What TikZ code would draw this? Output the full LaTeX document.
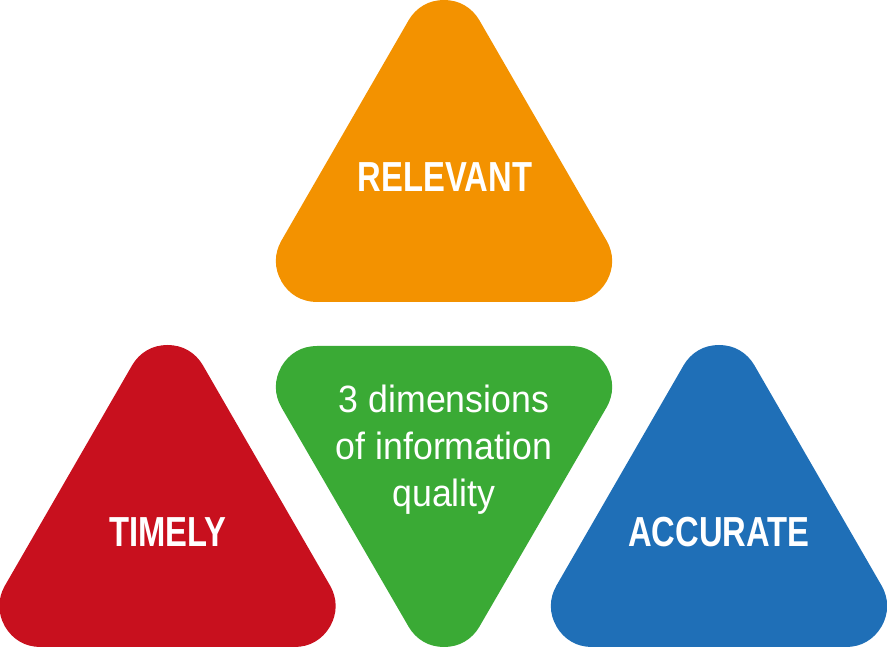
\documentclass[tikz,border=0pt]{standalone}
\usepackage{fontspec}
\setmainfont{Liberation Sans}
\newfontfamily\headfont[FakeStretch=0.78]{Liberation Sans Bold}
\newfontfamily\bodyfont[FakeStretch=0.94]{Liberation Sans}

\definecolor{relorange}{RGB}{243,146,0}
\definecolor{dimgreen}{RGB}{58,170,53}
\definecolor{timred}{RGB}{200,16,30}
\definecolor{accblue}{RGB}{31,111,183}

\begin{document}
\begin{tikzpicture}[
	x = 1pt, y = 1pt, % one unit is one pixel
	tri/.style={line width=82pt, line join=round}, % rounded corners of the triangles
	H/.style={text=white, inner sep=0pt, font=\headfont\fontsize{42}{42}\selectfont},  %labels of the outer triangles
	B/.style={text=white, inner sep=0pt, align=center, font=\bodyfont\fontsize{38}{47}\selectfont}, %centre text
	]
	\useasboundingbox (0,0) rectangle (887,648);

	% Triangles
	\filldraw[tri, fill=relorange, draw=relorange] (317,387) -- (571,387) -- (444,607) -- cycle;
	\filldraw[tri, fill=dimgreen, draw=dimgreen] (317,261) -- (571,261) -- (444,42) -- cycle;
	\filldraw[tri, fill=timred, draw=timred] (40.5,42) -- (294.5,42) -- (167.5,262) -- cycle;
	\filldraw[tri, fill=accblue, draw=accblue] (592,42) -- (846,42) -- (719,262) -- cycle;

	% Labels
	\node[H] (R) at (445,471) {RELEVANT};
	\node[H] (T) at (168,116) {TIMELY};
	\node[H] (A) at (719,116) {ACCURATE};
	\node[B] (D) at (444,198) {3 dimensions\\of information\\quality};

\end{tikzpicture}
\end{document}
